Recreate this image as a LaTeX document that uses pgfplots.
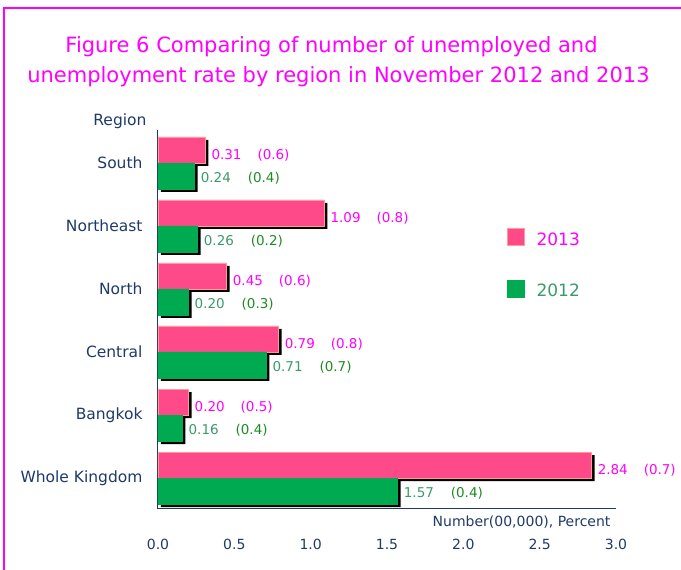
\documentclass[border=0pt]{standalone}
\usepackage{fontspec}
\setmainfont{DejaVu Sans}
\usepackage{pgfplots}
\pgfplotsset{compat=1.18}
\usepackage{pgfplotstable}

\definecolor{barpink}{HTML}{FF4A8A}
\definecolor{pinkedge}{HTML}{FF9A9A}
\definecolor{bargreen}{HTML}{00AA50}
\definecolor{magtext}{HTML}{FF00FF}
\definecolor{greenval}{HTML}{3A9A6A}
\definecolor{greenpct}{HTML}{1E8B22}
\definecolor{navy}{HTML}{1F3A68}

% y: 0 = Whole Kingdom ... 5 = South
\pgfplotstableread{
y v13 r13 v12 r12
5 0.31 0.6 0.24 0.4
4 1.09 0.8 0.26 0.2
3 0.45 0.6 0.20 0.3
2 0.79 0.8 0.71 0.7
1 0.20 0.5 0.16 0.4
0 2.84 0.7 1.57 0.4
}\datatab

\begin{document}
\begin{tikzpicture}
\useasboundingbox (-158pt,-61pt) rectangle (523pt,509pt);
\draw[line width=2.5pt, magtext] (-154pt,-62pt) -- (-154pt,501pt) -- (524pt,501pt);
\node[anchor=base, text=magtext, font=\fontsize{21}{24}\selectfont] at (173.5pt,456pt)
  {Figure 6 Comparing of number of unemployed and};
\node[anchor=base, text=magtext, font=\fontsize{21}{24}\selectfont] at (180.5pt,426pt)
  {unemployment rate by region in November 2012 and 2013};
\begin{axis}[
    at={(0pt,0pt)}, anchor=south west,
    scale only axis, width=458pt, height=379pt,
    xbar, bar width=26pt,
    xmin=0, xmax=3, ymin=-0.49, ymax=5.52,
    axis x line=bottom, axis y line=left,
    axis line style={draw=navy, line width=1pt, -},
    xtick={0,0.5,1,1.5,2,2.5,3},
    ytick={0,1,2,3,4,5},
    yticklabels={Whole Kingdom, Bangkok, Central, North, Northeast, South},
    major tick length=0pt,
    /pgf/number format/assume math mode=true,
    xticklabel style={yshift=-27pt, text=navy, font=\fontsize{14}{16}\selectfont,
        /pgf/number format/fixed, /pgf/number format/zerofill, /pgf/number format/precision=1},
    yticklabel style={xshift=-12pt, text=navy, font=\fontsize{15.5}{18}\selectfont},
    legend image code/.code={\fill[#1] (0pt,-6pt) rectangle (17pt,11pt);},
    legend style={at={(rel axis cs:0.762,0.741)}, anchor=north west, draw=none, fill=none,
        inner sep=0pt, row sep=31pt, font=\fontsize{17}{20}\selectfont,
        /tikz/every odd column/.style={column sep=10pt}},
    legend cell align=left,
    clip=false,
]
% shadows
\addplot[fill=black, draw=none, bar shift=13pt, xshift=3pt, yshift=-3pt, forget plot]
  table[x=v13, y=y]{\datatab};
\addplot[fill=black, draw=none, bar shift=-13pt, xshift=3pt, yshift=-3pt, forget plot]
  table[x=v12, y=y]{\datatab};
% 2013
\addplot[fill=barpink, draw=pinkedge, bar shift=13pt,
    visualization depends on={\thisrow{r13}\as\rate},
    nodes near coords={\makebox[46pt][l]{\pgfmathprintnumber[fixed,zerofill,precision=2]{\pgfplotspointmeta}}(\pgfmathprintnumber[fixed,zerofill,precision=1]{\rate})},
    nodes near coords style={anchor=west, inner sep=1pt, xshift=5pt, yshift=-5pt,
        text=magtext, font=\fontsize{13.5}{15}\selectfont}]
  table[x=v13, y=y]{\datatab};
\addlegendentry{\textcolor{magtext}{2013}}
% 2012
\addplot[fill=bargreen, draw=bargreen, bar shift=-13pt,
    visualization depends on={\thisrow{r12}\as\rate},
    nodes near coords={\makebox[47pt][l]{\pgfmathprintnumber[fixed,zerofill,precision=2]{\pgfplotspointmeta}}\textcolor{greenpct}{(\pgfmathprintnumber[fixed,zerofill,precision=1]{\rate})}},
    nodes near coords style={anchor=west, inner sep=1pt, xshift=5pt, yshift=-2pt,
        text=greenval, font=\fontsize{13.5}{15}\selectfont}]
  table[x=v12, y=y]{\datatab};
\addlegendentry{\textcolor{greenval}{2012}}
\node[anchor=base east, text=navy, font=\fontsize{15.5}{18}\selectfont]
  at ([xshift=-8pt, yshift=4pt]rel axis cs:0,1) {Region};
\node[anchor=base east, text=navy, font=\fontsize{14}{16}\selectfont]
  at ([xshift=-2pt, yshift=-18pt]rel axis cs:1,0) {Number(00,000), Percent};
\end{axis}
\end{tikzpicture}
\end{document}
